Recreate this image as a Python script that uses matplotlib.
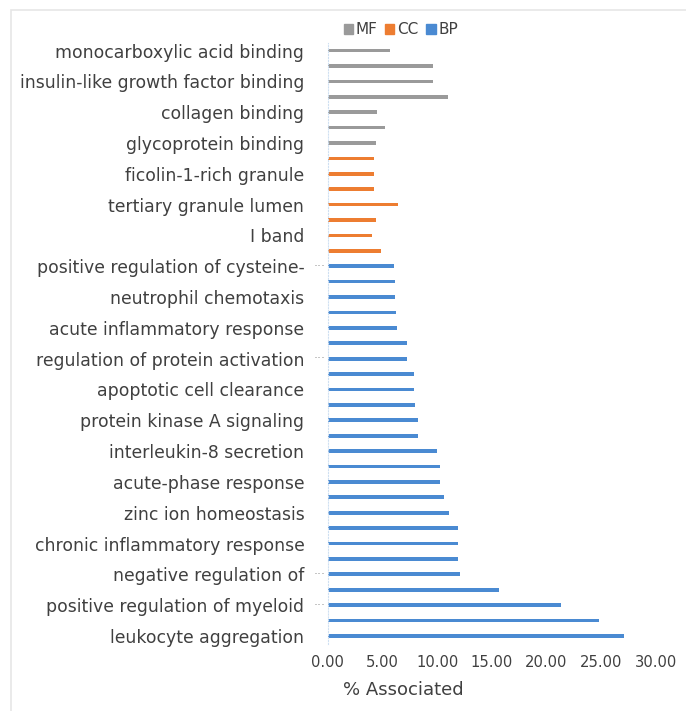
import matplotlib
matplotlib.use("Agg")
import matplotlib.pyplot as plt
from matplotlib.patches import Rectangle, Patch

plt.rcParams['font.family'] = ['DejaVu Sans']

# values read top -> bottom
mf_vals = [5.71, 9.59, 9.59, 11.02, 4.49, 5.19, 4.44]
cc_vals = [4.25, 4.25, 4.25, 6.40, 4.37, 4.07, 4.83]
bp_vals = [6.01, 6.17, 6.17, 6.19, 6.28, 7.26, 7.26, 7.86, 7.86, 8.01, 8.22, 8.22,
           9.95, 10.29, 10.29, 10.63, 11.05, 11.93, 11.93, 11.93, 12.05, 15.69,
           21.31, 24.84, 27.08]

# labels shown on every other bar, top -> bottom
labels = ["monocarboxylic acid binding", "insulin-like growth factor binding",
          "collagen binding", "glycoprotein binding", "ficolin-1-rich granule",
          "tertiary granule lumen", "I band", "positive regulation of cysteine-",
          "neutrophil chemotaxis", "acute inflammatory response",
          "regulation of protein activation", "apoptotic cell clearance",
          "protein kinase A signaling", "interleukin-8 secretion",
          "acute-phase response", "zinc ion homeostasis",
          "chronic inflammatory response", "negative regulation of",
          "positive regulation of myeloid", "leukocyte aggregation"]
truncated = {"positive regulation of cysteine-", "regulation of protein activation",
             "negative regulation of", "positive regulation of myeloid"}
xticks = [0, 5, 10, 15, 20, 25, 30]

C_MF, C_CC, C_BP = "#9a9a9a", "#ED7D31", "#4A8AD2"
INK = "#404040"

vals = mf_vals + cc_vals + bp_vals
cols = [C_MF] * len(mf_vals) + [C_CC] * len(cc_vals) + [C_BP] * len(bp_vals)
n = len(vals)
ypos = [n - 1 - i for i in range(n)]

fig = plt.figure(figsize=(6.86, 7.11), dpi=100)
ax = fig.add_axes([0.478, 0.0947, 0.478, 0.845])
ax.barh(ypos, vals, color=cols, height=0.24)
ax.set_xlim(0, 30)
ax.set_ylim(-0.5, n - 0.5)

lab_y = [n - 1 - 2 * i for i in range(len(labels))]
ax.set_yticks(lab_y)
ax.set_yticklabels(labels, fontsize=12.4, color=INK)
ax.tick_params(axis="y", length=0, pad=17)
for lab, y in zip(labels, lab_y):
    if lab in truncated:
        ax.annotate("···", xy=(0, y), xycoords=("axes fraction", "data"),
                    xytext=(-1.5, 0), textcoords="offset points", ha="right",
                    va="center", fontsize=9, color="#a0a0a0")

ax.set_xticks(xticks)
ax.set_xticklabels([f"{t:.2f}" for t in xticks], fontsize=10.6, color=INK)
ax.tick_params(axis="x", length=0, pad=8)
ax.set_xlabel("% Associated", fontsize=13, color=INK)
ax.xaxis.set_label_coords(0.229, -0.062)

for s in ["top", "right", "bottom"]:
    ax.spines[s].set_visible(False)
ax.spines["left"].set_color("#cfe0f2")
ax.spines["left"].set_linestyle(":")
ax.spines["left"].set_linewidth(0.8)

handles = [Patch(color=C_MF), Patch(color=C_CC), Patch(color=C_BP)]
fig.legend(handles, ["MF", "CC", "BP"], loc="center", ncol=3,
           bbox_to_anchor=(401 / 686, 1 - 30 / 711), frameon=False,
           fontsize=11, handlelength=0.6, handleheight=0.6,
           handletextpad=0.2, columnspacing=0.5, labelcolor=INK)

fig.patches.append(Rectangle((11 / 686, -0.01), 1.0, 1 - 10 / 711 + 0.01,
                             transform=fig.transFigure, fill=False,
                             edgecolor="#e6e6e6", linewidth=1.2))

fig.savefig("out.png", dpi=100, facecolor="white")
